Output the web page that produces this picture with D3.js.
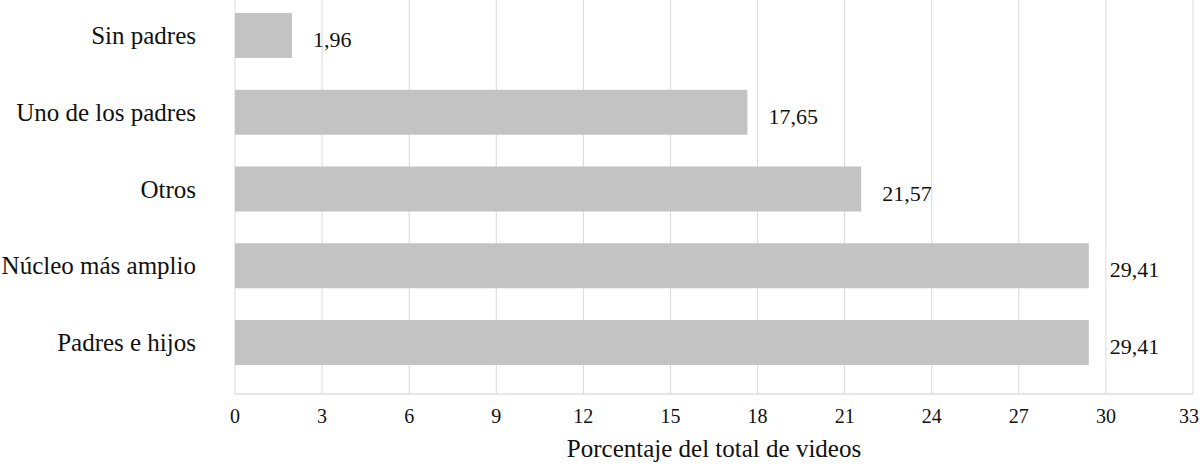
<!DOCTYPE html>
<html>
<head>
<meta charset="utf-8">
<script src="https://cdn.jsdelivr.net/npm/d3@7"></script>
<style>
  body { margin: 0; background: #fff; }
  text { font-family: "Liberation Serif", "DejaVu Serif", serif; fill: #111; }
</style>
</head>
<body>
<script>
var categories = ["Sin padres", "Uno de los padres", "Otros", "Núcleo más amplio", "Padres e hijos"];
var values = [1.96, 17.65, 21.57, 29.41, 29.41];
var valueLabels = ["1,96", "17,65", "21,57", "29,41", "29,41"];
var xTicks = [0, 3, 6, 9, 12, 15, 18, 21, 24, 27, 30, 33];
var xTitle = "Porcentaje del total de videos";

var width = 1200, height = 467;
var plotLeft = 235, plotRight = 1193, plotTop = 0, plotBottom = 394;

var svg = d3.select("body").append("svg")
  .attr("width", width)
  .attr("height", height);

var x = d3.scaleLinear().domain([0, 33]).range([plotLeft, plotRight]);
var y = d3.scaleBand().domain(categories).range([plotTop, plotBottom])
  .paddingInner(0.414).paddingOuter(0.274).align(0.31);

// rejilla vertical
svg.selectAll("line.grid")
  .data(xTicks)
  .enter()
  .append("line")
  .attr("class", "grid")
  .attr("x1", function(d) { return x(d); })
  .attr("x2", function(d) { return x(d); })
  .attr("y1", plotTop)
  .attr("y2", plotBottom)
  .style("stroke", "#d9d9d9")
  .style("stroke-width", 1);

// eje inferior
svg.append("line")
  .attr("x1", plotLeft).attr("x2", plotRight)
  .attr("y1", plotBottom).attr("y2", plotBottom)
  .style("stroke", "#d0d0d0");

var bars = categories.map(function(c, i) {
  return { cat: c, value: values[i], label: valueLabels[i] };
});

svg.selectAll("rect.bar")
  .data(bars)
  .enter()
  .append("rect")
  .attr("class", "bar")
  .attr("x", x(0))
  .attr("y", function(d) { return y(d.cat); })
  .attr("width", function(d) { return x(d.value) - x(0); })
  .attr("height", y.bandwidth())
  .attr("fill", "#c3c3c3");

// etiquetas de valor
svg.selectAll("text.val")
  .data(bars)
  .enter()
  .append("text")
  .attr("class", "val")
  .attr("x", function(d) { return x(d.value) + 21; })
  .attr("y", function(d) { return y(d.cat) + y.bandwidth() / 2 + 4; })
  .attr("dominant-baseline", "central")
  .style("font-size", "22px")
  .text(function(d) { return d.label; });

// categorias
svg.selectAll("text.cat")
  .data(categories)
  .enter()
  .append("text")
  .attr("class", "cat")
  .attr("x", 196)
  .attr("y", function(d) { return y(d) + y.bandwidth() / 2; })
  .attr("text-anchor", "end")
  .attr("dominant-baseline", "central")
  .style("font-size", "25px")
  .text(function(d) { return d; });

// marcas del eje x
svg.selectAll("text.tick")
  .data(xTicks)
  .enter()
  .append("text")
  .attr("class", "tick")
  .attr("x", function(d) { return Math.min(x(d), 1189); })
  .attr("y", 423)
  .attr("text-anchor", "middle")
  .style("font-size", "20px")
  .text(function(d) { return d; });

svg.append("text")
  .attr("x", (plotLeft + plotRight) / 2)
  .attr("y", 457)
  .attr("text-anchor", "middle")
  .style("font-size", "25px")
  .text(xTitle);
</script>
</body>
</html>
